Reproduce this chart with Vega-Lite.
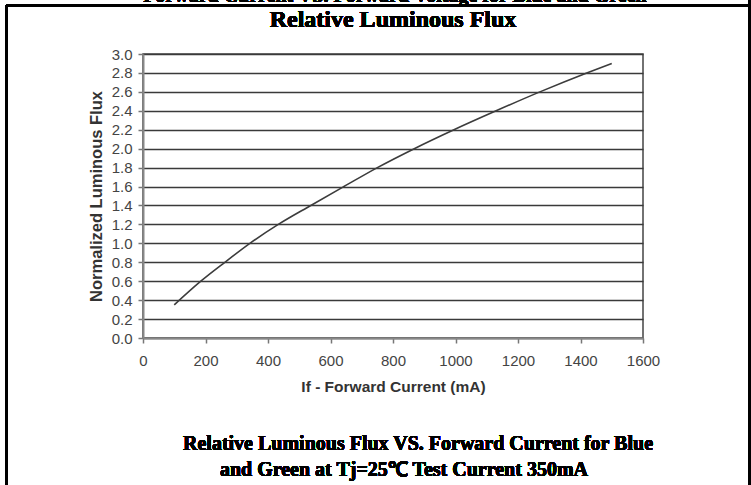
{
  "$schema": "https://vega.github.io/schema/vega-lite/v6.json",
  "width": 500,
  "height": 284,
  "autosize": {"type": "none"},
  "padding": {"left": 143, "top": 54, "right": 108, "bottom": 147},
  "background": "white",
  "config": {
    "view": {"stroke": "#444444", "strokeWidth": 1.5},
    "axis": {
      "labelFont": "Liberation Sans", "titleFont": "Liberation Sans",
      "labelOverlap": false, "labelBound": false, "labelFlush": false,
      "domainColor": "#888888", "domainWidth": 2,
      "tickColor": "#777777", "tickSize": 5, "tickWidth": 1.5,
      "labelFontSize": 15, "labelColor": "#444444",
      "titleFontWeight": "bold", "titleColor": "#333333"
    },
    "axisX": {"grid": false, "labelPadding": 10, "titleFontSize": 15.5, "titlePadding": 11},
    "axisY": {"grid": true, "gridColor": "#3a3a3a", "gridWidth": 1.5, "labelPadding": 6, "titleFontSize": 16.5, "titlePadding": 7}
  },
  "data": {
    "values": [
      {"current": 100, "flux": 0.35},
      {"current": 185, "flux": 0.6},
      {"current": 262, "flux": 0.8},
      {"current": 342, "flux": 1.0},
      {"current": 433, "flux": 1.2},
      {"current": 537, "flux": 1.4},
      {"current": 643, "flux": 1.6},
      {"current": 750, "flux": 1.8},
      {"current": 868, "flux": 2.0},
      {"current": 995, "flux": 2.2},
      {"current": 1130, "flux": 2.4},
      {"current": 1270, "flux": 2.6},
      {"current": 1420, "flux": 2.8},
      {"current": 1500, "flux": 2.9}
    ]
  },
  "layer": [
    {
      "mark": {"type": "line", "interpolate": "monotone", "color": "#3c3c3c", "strokeWidth": 1.6},
      "encoding": {
        "x": {
          "field": "current", "type": "quantitative",
          "scale": {"domain": [0, 1600], "nice": false},
          "axis": {
            "values": [0, 200, 400, 600, 800, 1000, 1200, 1400, 1600],
            "tickCount": 20,
            "format": "d", "labelOverlap": false,
            "title": "If - Forward Current (mA)"
          }
        },
        "y": {
          "field": "flux", "type": "quantitative",
          "scale": {"domain": [0, 3], "nice": false},
          "axis": {
            "values": [0, 0.2, 0.4, 0.6, 0.8, 1.0, 1.2, 1.4, 1.6, 1.8, 2.0, 2.2, 2.4, 2.6, 2.8, 3.0],
            "tickCount": 20,
            "format": ".1f", "labelOverlap": false,
            "title": "Normalized Luminous Flux"
          }
        }
      }
    },
    {
      "mark": {"type": "rule", "clip": false, "color": "black", "strokeWidth": 2.3},
      "encoding": {
        "x": {"datum": -437, "type": "quantitative"},
        "y": {"datum": 3.514, "type": "quantitative"},
        "y2": {"datum": -2}
      }
    },
    {
      "mark": {"type": "rule", "clip": false, "color": "black", "strokeWidth": 2.3},
      "encoding": {
        "x": {"datum": 1941, "type": "quantitative"},
        "y": {"datum": 3.8, "type": "quantitative"},
        "y2": {"datum": -2}
      }
    },
    {
      "mark": {"type": "rule", "clip": false, "color": "black", "strokeWidth": 2.3},
      "encoding": {
        "x": {"datum": -437, "type": "quantitative"},
        "x2": {"datum": 1945},
        "y": {"datum": 3.514, "type": "quantitative"}
      }
    },
    {
      "mark": {"type": "text", "clip": false, "text": "Forward Current VS. Forward Voltage for Blue and Green",
               "font": "Liberation Serif", "fontSize": 20, "fontWeight": "bold", "color": "black",
               "align": "center", "baseline": "alphabetic"},
      "encoding": {
        "x": {"datum": 806, "type": "quantitative"},
        "y": {"datum": 3.55, "type": "quantitative"}
      }
    },
    {
      "mark": {"type": "text", "clip": false, "text": "Relative Luminous Flux",
               "font": "Liberation Serif", "fontSize": 24, "fontWeight": "bold", "color": "black",
               "align": "center", "baseline": "alphabetic"},
      "encoding": {
        "x": {"datum": 800, "type": "quantitative"},
        "y": {"datum": 3.285, "type": "quantitative"}
      }
    },
    {
      "mark": {"type": "text", "clip": false, "text": "Relative Luminous Flux VS. Forward Current for Blue",
               "font": "Liberation Serif", "fontSize": 20, "fontWeight": "bold", "color": "black",
               "align": "center", "baseline": "middle"},
      "encoding": {
        "x": {"datum": 880, "type": "quantitative"},
        "y": {"datum": -1.12, "type": "quantitative"}
      }
    },
    {
      "mark": {"type": "text", "clip": false, "text": "and Green at Tj=25℃ Test Current 350mA",
               "font": "Liberation Serif", "fontSize": 20, "fontWeight": "bold", "color": "black",
               "align": "center", "baseline": "middle"},
      "encoding": {
        "x": {"datum": 835, "type": "quantitative"},
        "y": {"datum": -1.394, "type": "quantitative"}
      }
    }
  ]
}
